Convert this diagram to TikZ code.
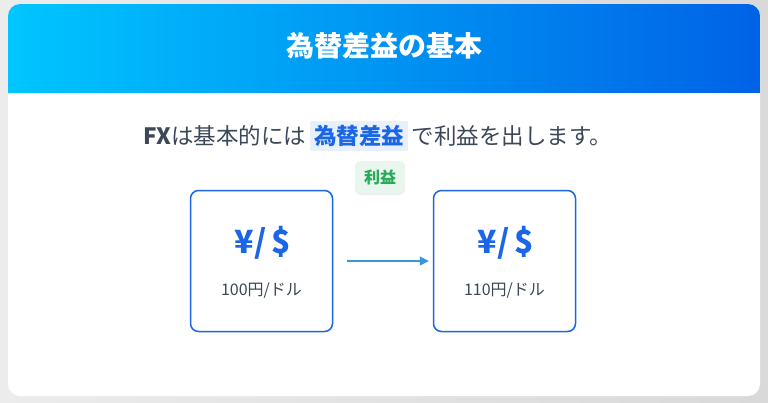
\documentclass[tikz,border=0pt]{standalone}
\usepackage{fontspec}
\setmainfont{Noto Sans CJK JP}
\usetikzlibrary{positioning,shadows,arrows.meta}
\definecolor{fxblue}{RGB}{26,102,230}
\definecolor{fxcyan}{RGB}{0,198,255}
\definecolor{fxdeep}{RGB}{0,98,230}
\definecolor{fxtext}{RGB}{60,72,88}
\definecolor{fxgreen}{RGB}{40,170,90}
\definecolor{fxarrow}{RGB}{52,152,219}
\tikzset{
  rate box/.style={draw=fxblue,line width=1.5pt,rounded corners=8pt,minimum width=142pt,minimum height=141pt,fill=white},
  pair/.style={text=fxblue,font=\bfseries\fontsize{32}{34}\selectfont},
  price/.style={text=fxtext,font=\fontsize{16}{18}\selectfont}
}
\begin{document}
\begin{tikzpicture}[x=1pt,y=-1pt]
    % Background and card
    \shade[left color=gray!15,right color=gray!30] (0,0) rectangle (768,402);
    \useasboundingbox (0,0) rectangle (768,402);
    \fill[white,rounded corners=12pt] (8,4) rectangle (760,396);
    \begin{scope}
        \clip[rounded corners=12pt] (8,4) rectangle (760,120);
        \shade[left color=fxcyan,right color=fxdeep] (8,4) rectangle (760,92);
    \end{scope}
    \node[text=white,font=\bfseries\fontsize{28}{30}\selectfont] (title) at (384,46) {為替差益の基本};

    % Intro sentence
    \setlength{\fboxsep}{4pt}
    \node[text=fxtext,font=\fontsize{22.5}{24}\selectfont,inner sep=0pt] (intro) at (378,136)
        {\textbf{FX}は基本的には\,\colorbox{fxblue!10}{\textcolor{fxblue}{\textbf{為替差益}}}\,で利益を出します。};

    % Rate boxes
    \node[rate box] (before) at (261.5,261) {};
    \node[rate box] (after) at (504.5,261) {};
    \node[pair] (pair a) at (263,243) {¥/\,\$};
    \node[price] (price a) at (261.5,291) {100円/ドル};
    \node[pair] (pair b) at (506,243) {¥/\,\$};
    \node[price] (price b) at (504.5,291) {110円/ドル};

    % Profit badge
    \node[fill=fxgreen!10,rounded corners=6pt,minimum width=50pt,minimum height=32pt,
        text=fxgreen,font=\bfseries\fontsize{16}{18}\selectfont,
        drop shadow={opacity=0.12,shadow xshift=0pt,shadow yshift=-2pt}] (profit) at (380,177) {利益};

    % Arrow between boxes
    \draw[fxarrow,line width=1.3pt,-{Triangle[length=9pt,width=9pt]}] ([xshift=14pt]before.east) -- ([xshift=-4pt]after.west);
\end{tikzpicture}
\end{document}
